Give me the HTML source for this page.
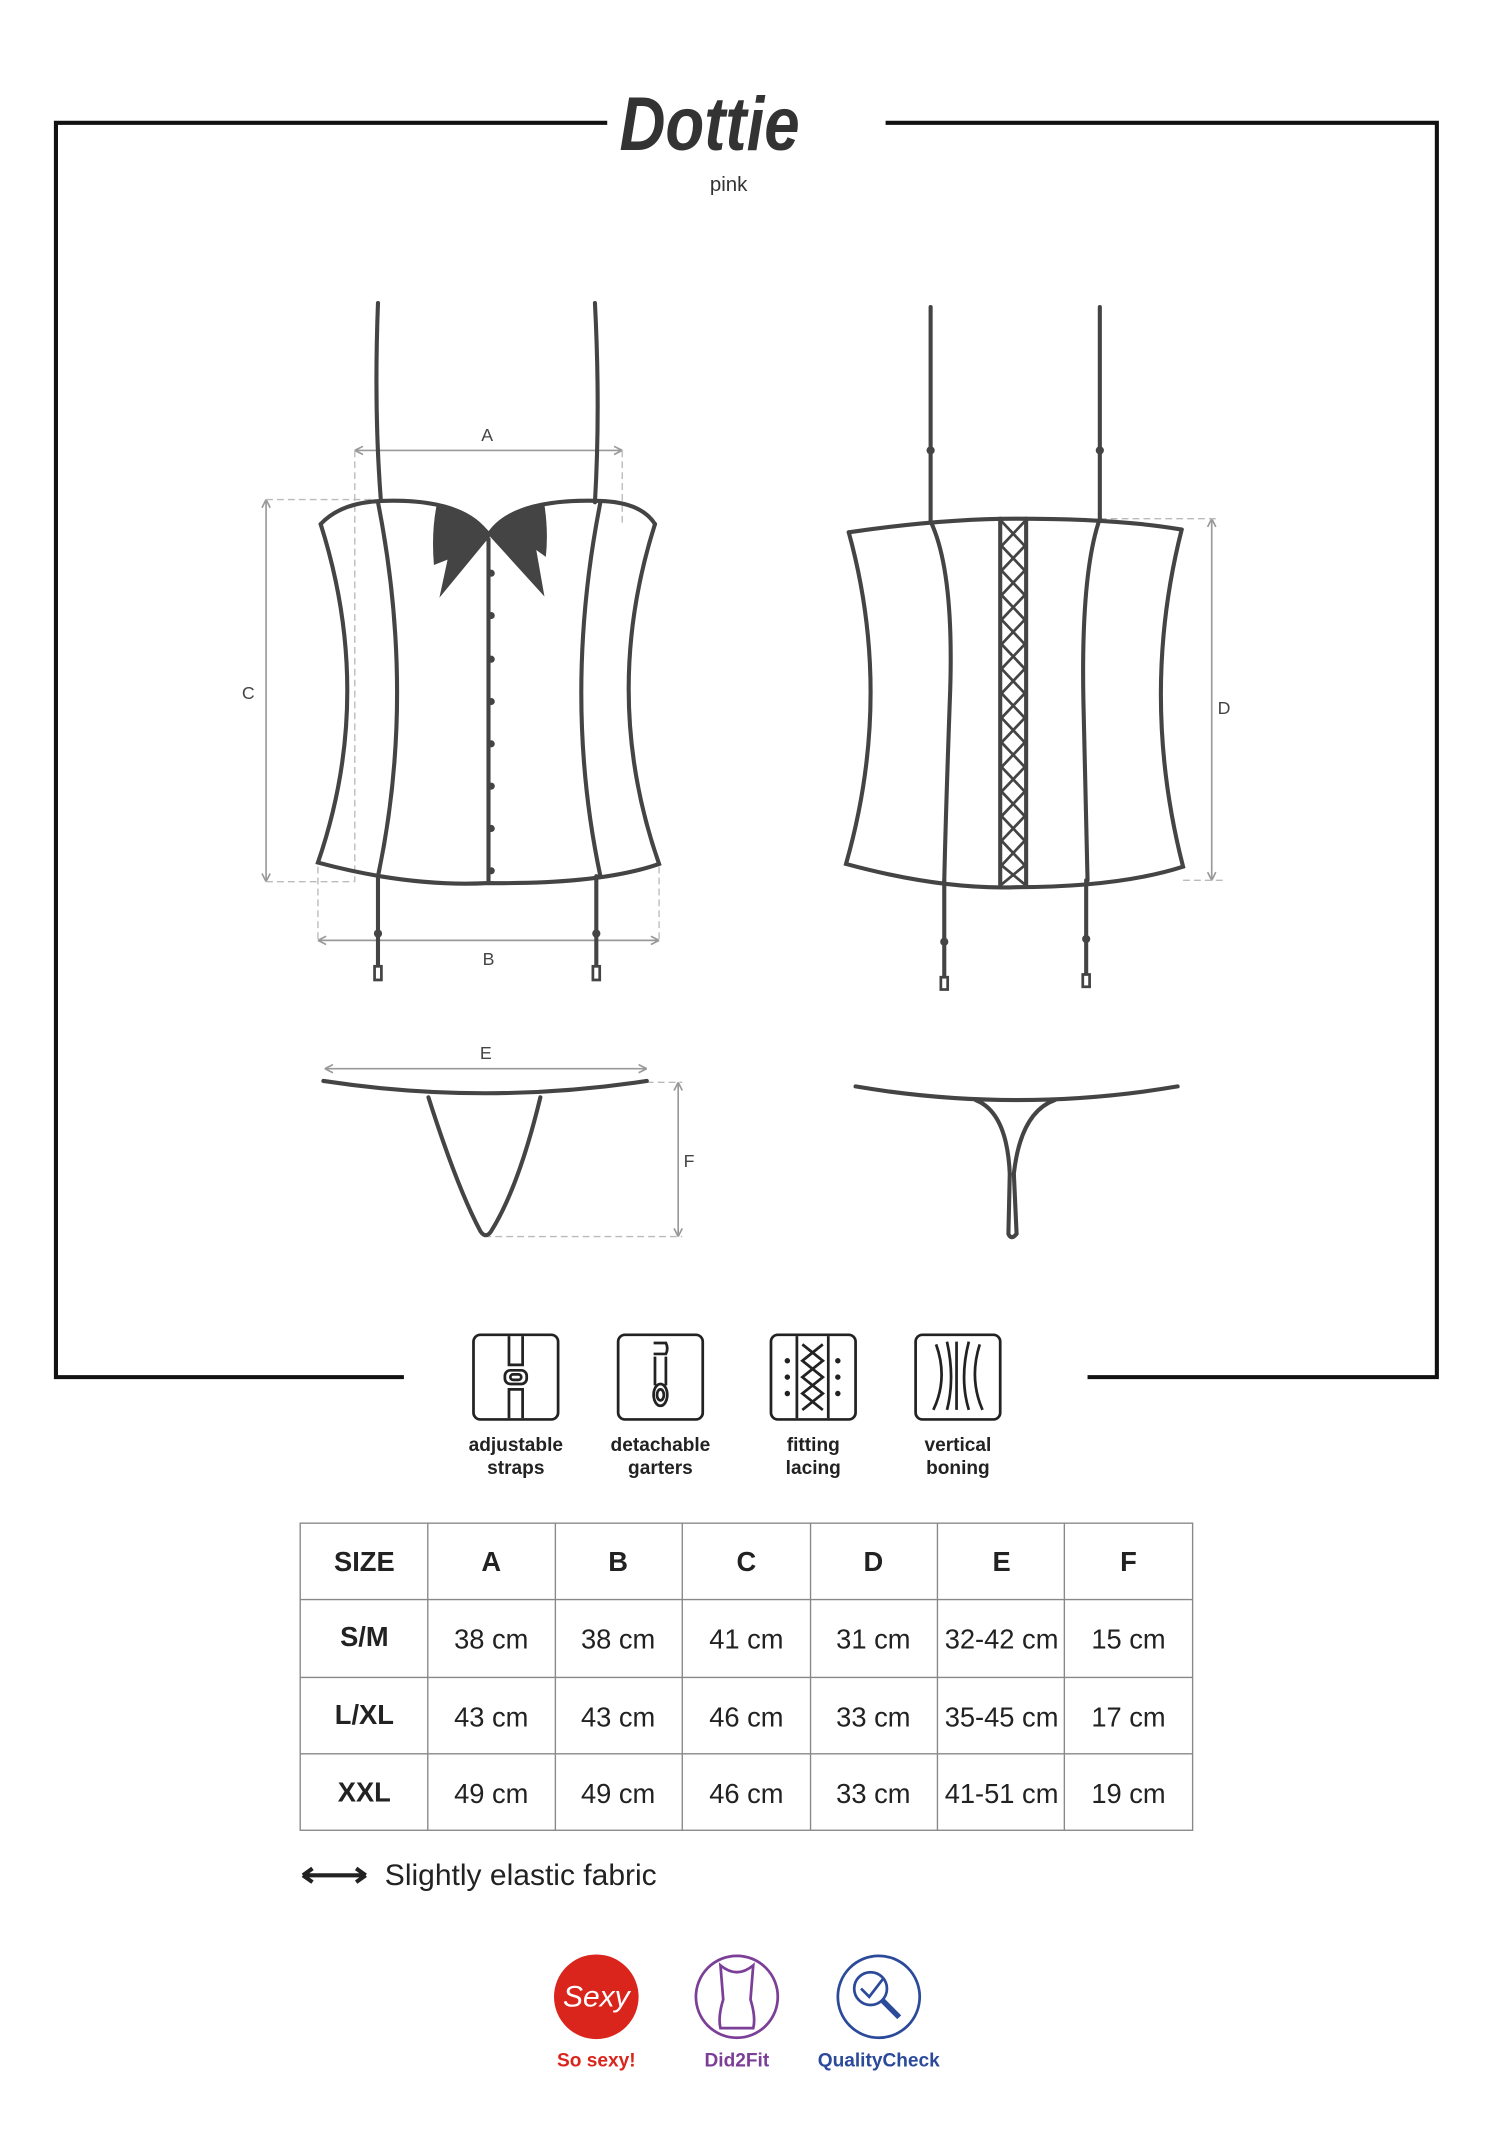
<!DOCTYPE html>
<html><head><meta charset="utf-8"><style>
html,body{margin:0;padding:0;background:#fff}
svg{display:block}
text{font-family:"Liberation Sans",sans-serif}
</style></head><body>
<svg width="1501" height="2151" viewBox="0 0 1100 1576" preserveAspectRatio="none" xmlns="http://www.w3.org/2000/svg">
<rect width="1100" height="1576" fill="#fff"/>
<g stroke="#111" stroke-width="3" fill="none">
<path d="M445 90 H41 V1009 H296"/>
<path d="M649 90 H1053 V1009 H797"/>
</g>
<text x="520" y="110" font-family="Liberation Serif" font-style="italic" font-weight="bold" font-size="56" fill="#333" text-anchor="middle" textLength="132" lengthAdjust="spacingAndGlyphs">Dottie</text>
<text x="534" y="140" font-size="15" fill="#333" text-anchor="middle">pink</text>

<g stroke="#999" stroke-width="1.2" fill="none">
<path d="M260 330 H456 M260 330 l6 -3 M260 330 l6 3 M456 330 l-6 -3 M456 330 l-6 3"/>
<path d="M195 366 V646 M195 366 l-3 6 M195 366 l3 6 M195 646 l-3 -6 M195 646 l3 -6"/>
<path d="M233 689 H483 M233 689 l6 -3 M233 689 l6 3 M483 689 l-6 -3 M483 689 l-6 3"/>
<path d="M888 380 V645 M888 380 l-3 6 M888 380 l3 6 M888 645 l-3 -6 M888 645 l3 -6"/>
<path d="M238 783 H474 M238 783 l6 -3 M238 783 l6 3 M474 783 l-6 -3 M474 783 l-6 3"/>
<path d="M497 793 V906 M497 793 l-3 6 M497 793 l3 6 M497 906 l-3 -6 M497 906 l3 -6"/>
</g>
<g stroke="#bbb" stroke-width="1" fill="none" stroke-dasharray="5 3">
<path d="M260 330 V646 M456 330 V385"/>
<path d="M195 366 H275 M195 646 H260"/>
<path d="M233 635 V689 M483 635 V689"/>
<path d="M806 380 H892 M867 645 H898"/>
<path d="M474 793 H500 M355 906 H500"/>
</g>
<g font-size="13" fill="#444" text-anchor="middle">
<text x="357" y="323">A</text><text x="182" y="512">C</text><text x="358" y="707">B</text>
<text x="897" y="523">D</text><text x="356" y="776">E</text><text x="505" y="855">F</text>
</g>

<g stroke="#444" stroke-width="3" fill="none" stroke-linecap="round">
<path d="M277 222 Q274 300 279 365 M436 222 Q440 300 436 368"/>
<path d="M235 384 Q250 368 280 367 Q340 365 358 392 Q375 365 440 367 Q470 368 480 384"/>
<path d="M235 384 Q275 510 233 632 Q300 650 358 647 Q440 648 483 633 Q440 510 480 384"/>
<path d="M277 368 Q305 510 277 642 M440 368 Q412 510 440 642"/>
<path d="M358 395 V647"/>
<path d="M277 642 V712 M437 642 V712"/>
</g>
<g fill="#444">
<circle cx="360" cy="420" r="2.6"/><circle cx="360" cy="451" r="2.6"/><circle cx="360" cy="483" r="2.6"/><circle cx="360" cy="514" r="2.6"/><circle cx="360" cy="545" r="2.6"/><circle cx="360" cy="576" r="2.6"/><circle cx="360" cy="607" r="2.6"/><circle cx="360" cy="638" r="2.6"/>
<circle cx="277" cy="684" r="3"/><circle cx="437" cy="684" r="3"/>
<path d="M320 370 Q345 375 359 390 Q373 375 399 370 Q402 390 400 408 L393 403 L399 437 L359 393 L322 438 L328 410 L318 414 Q316 390 320 370Z"/>
</g>
<g stroke="#444" stroke-width="2" fill="#fff"><rect x="274.5" y="708" width="5" height="10"/><rect x="434.5" y="708" width="5" height="10"/></g>

<g stroke="#444" stroke-width="3" fill="none" stroke-linecap="round">
<path d="M682 225 V382 M806 225 V380"/>
<path d="M622 390 Q690 380 745 380 Q820 380 866 388"/>
<path d="M622 390 Q655 510 620 633 Q690 652 745 650 Q820 650 867 635 Q835 510 866 388"/>
<path d="M682 382 Q700 420 696 515 Q693 600 692 645 M806 380 Q792 420 794 515 Q796 600 797 645"/>
<path d="M692 645 V720 M796 645 V718"/>
<path d="M733 380 V648 M752 380 V648"/>
</g>
<g stroke="#444" stroke-width="2" fill="none">
<path d="M734 382 L751 400 L734 418 L751 436 L734 454 L751 472 L734 490 L751 508 L734 526 L751 544 L734 562 L751 580 L734 598 L751 616 L734 634 L751 648"/>
<path d="M751 382 L734 400 L751 418 L734 436 L751 454 L734 472 L751 490 L734 508 L751 526 L734 544 L751 562 L734 580 L751 598 L734 616 L751 634 L734 648"/>
</g>
<g fill="#444"><circle cx="682" cy="330" r="3"/><circle cx="806" cy="330" r="3"/><circle cx="692" cy="690" r="3"/><circle cx="796" cy="688" r="3"/></g>
<g stroke="#444" stroke-width="2" fill="#fff"><rect x="689.5" y="716" width="5" height="9"/><rect x="793.5" y="714" width="5" height="9"/></g>

<g stroke="#444" stroke-width="3" fill="none" stroke-linecap="round">
<path d="M237 792 Q355 810 474 792"/>
<path d="M314 804 Q335 870 352 902 Q356 908 360 902 Q380 870 396 804"/>
<path d="M627 796 Q745 816 863 796"/>
<path d="M715 806 Q738 815 740 860 L739 904 Q741 909 745 904 L743 860 Q748 815 773 806"/>
</g>

<g stroke="#222" stroke-width="2" fill="none">
<rect x="347" y="978" width="62" height="62" rx="5"/>
<rect x="453" y="978" width="62" height="62" rx="5"/>
<rect x="565" y="978" width="62" height="62" rx="5"/>
<rect x="671" y="978" width="62" height="62" rx="5"/>
<path d="M373 979 V1000 H383 V979 M373 1039 V1018 H383 V1039"/><rect x="370" y="1004" width="16" height="10" rx="4"/><rect x="374" y="1007" width="8" height="4" rx="2"/>
<path d="M479 984 H488 Q490 988 488 992 H479 M480 994 V1015 M488 994 V1015"/><ellipse cx="484" cy="1022" rx="5" ry="8"/><ellipse cx="484" cy="1022" rx="2.5" ry="4"/>
<path d="M584 979 V1039 M607 979 V1039 M588 985 L603 997 L588 1009 L603 1021 L588 1033 M603 985 L588 997 L603 1009 L588 1021 L603 1033"/>
<path d="M686 985 Q695 1010 684 1033 M694 983 Q700 1010 694 1033 M701 983 V1033 M710 983 Q703 1010 710 1033 M718 985 Q710 1010 720 1033"/>
</g>
<g fill="#222"><circle cx="577" cy="997" r="2"/><circle cx="577" cy="1009" r="2"/><circle cx="577" cy="1021" r="2"/><circle cx="614" cy="997" r="2"/><circle cx="614" cy="1009" r="2"/><circle cx="614" cy="1021" r="2"/></g>
<g font-size="14" font-weight="bold" fill="#222" text-anchor="middle">
<text x="378" y="1063">adjustable</text><text x="378" y="1080">straps</text>
<text x="484" y="1063">detachable</text><text x="484" y="1080">garters</text>
<text x="596" y="1063">fitting</text><text x="596" y="1080">lacing</text>
<text x="702" y="1063">vertical</text><text x="702" y="1080">boning</text>
</g>

<g stroke="#888" stroke-width="1" fill="none">
<rect x="220" y="1116" width="654" height="225"/>
<path d="M313.5 1116 V1341 M407 1116 V1341 M500 1116 V1341 M594 1116 V1341 M687 1116 V1341 M780 1116 V1341"/>
<path d="M220 1172 H874 M220 1229 H874 M220 1285 H874"/>
</g>
<g font-size="20" fill="#222" text-anchor="middle">
<g font-weight="bold">
<text x="267" y="1151">SIZE</text><text x="360" y="1151">A</text><text x="453" y="1151">B</text><text x="547" y="1151">C</text><text x="640" y="1151">D</text><text x="734" y="1151">E</text><text x="827" y="1151">F</text>
<text x="267" y="1206">S/M</text><text x="267" y="1263">L/XL</text><text x="267" y="1320">XXL</text>
</g>
<text x="360" y="1208">38 cm</text><text x="453" y="1208">38 cm</text><text x="547" y="1208">41 cm</text><text x="640" y="1208">31 cm</text><text x="734" y="1208">32-42 cm</text><text x="827" y="1208">15 cm</text>
<text x="360" y="1265">43 cm</text><text x="453" y="1265">43 cm</text><text x="547" y="1265">46 cm</text><text x="640" y="1265">33 cm</text><text x="734" y="1265">35-45 cm</text><text x="827" y="1265">17 cm</text>
<text x="360" y="1321">49 cm</text><text x="453" y="1321">49 cm</text><text x="547" y="1321">46 cm</text><text x="640" y="1321">33 cm</text><text x="734" y="1321">41-51 cm</text><text x="827" y="1321">19 cm</text>
</g>
<g stroke="#222" stroke-width="3" fill="none"><path d="M222 1374 H268 M222 1374 l7 -5 M222 1374 l7 5 M268 1374 l-7 -5 M268 1374 l-7 5"/></g>
<text x="282" y="1381" font-size="22" fill="#222">Slightly elastic fabric</text>

<circle cx="437" cy="1463" r="31" fill="#d9251c"/>
<text x="437" y="1470" font-family="Liberation Serif" font-style="italic" font-size="22" fill="#fff" text-anchor="middle">Sexy</text>
<circle cx="540" cy="1463" r="30" fill="none" stroke="#7b3f98" stroke-width="2"/>
<path d="M528 1440 Q540 1450 552 1440 L550 1465 Q554 1478 552 1486 H528 Q526 1478 530 1465 Z" fill="none" stroke="#7b3f98" stroke-width="2"/>
<circle cx="644" cy="1463" r="30" fill="none" stroke="#2b4a9a" stroke-width="2"/>
<circle cx="638" cy="1457" r="12" fill="none" stroke="#2b4a9a" stroke-width="2"/>
<path d="M647 1466 L659 1478" stroke="#2b4a9a" stroke-width="4"/>
<path d="M631 1457 L637 1463 L647 1450" stroke="#2b4a9a" stroke-width="2" fill="none"/>
<g font-size="14" font-weight="bold" text-anchor="middle">
<text x="437" y="1514" fill="#d9251c">So sexy!</text>
<text x="540" y="1514" fill="#7b3f98">Did2Fit</text>
<text x="644" y="1514" fill="#2b4a9a">QualityCheck</text>
</g>
</svg>
</body></html>
